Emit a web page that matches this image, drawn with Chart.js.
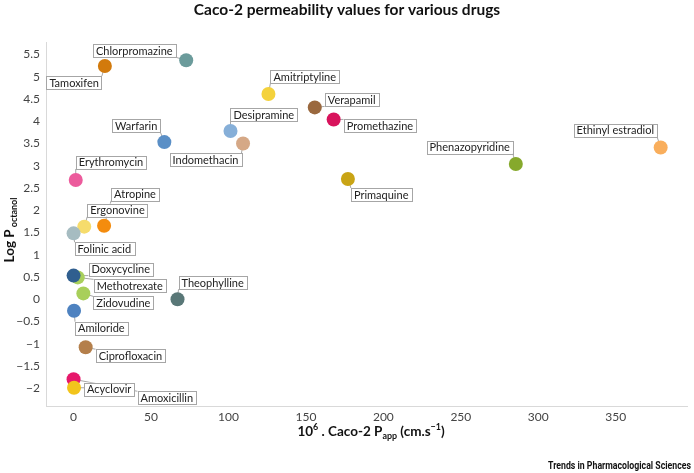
<!DOCTYPE html>
<html>
<head>
<meta charset="utf-8">
<script src="https://cdn.jsdelivr.net/npm/chart.js@4/dist/chart.umd.min.js"></script>
<style>
  html, body { margin: 0; padding: 0; background: #fff; }
  #wrap { width: 694px; height: 473px; position: relative; }
</style>
</head>
<body>
<div id="wrap"><canvas id="caco"></canvas></div>
<script>
// drugs and their values
const drugs = ['Chlorpromazine', 'Tamoxifen', 'Amitriptyline', 'Verapamil', 'Promethazine',
  'Desipramine', 'Warfarin', 'Indomethacin', 'Ethinyl estradiol', 'Phenazopyridine',
  'Erythromycin', 'Primaquine', 'Atropine', 'Ergonovine', 'Folinic acid', 'Methotrexate',
  'Doxycycline', 'Zidovudine', 'Theophylline', 'Amiloride', 'Ciprofloxacin', 'Amoxicillin', 'Acyclovir'];
const caco2Papp = [72.7, 20.2, 125.8, 155.7, 167.9, 101.3, 58.6, 109.4, 379, 285.5,
  1.4, 177.1, 19.7, 6.9, 0, 2.7, 0, 6.3, 67.1, 0.3, 7.8, 0, 0.3];
const logP = [5.37, 5.24, 4.61, 4.31, 4.04, 3.78, 3.53, 3.50, 3.41, 3.04,
  2.68, 2.70, 1.65, 1.63, 1.48, 0.49, 0.53, 0.13, 0.0, -0.26, -1.08, -1.80, -1.99];
const pointColors = ['#6b9b9b', '#d27a0c', '#f4d23c', '#9a683e', '#d8135c', '#86afd8', '#5a8fc6',
  '#d5a886', '#f9ae5c', '#86a92c', '#ec5b9c', '#c9a415', '#f48c0e', '#f6dc6c', '#a6bcc1',
  '#a9d05c', '#305f8f', '#a8cf5a', '#597777', '#4e82c0', '#b47f4b', '#e6186b', '#f2c41c'];
const xTicks = [0, 50, 100, 150, 200, 250, 300, 350];
const yTicks = [-2, -1.5, -1, -0.5, 0, 0.5, 1, 1.5, 2, 2.5, 3, 3.5, 4, 4.5, 5, 5.5];

// where each callout box sits relative to its point: [side, dx, dy]
// 'l' = box left edge at point + dx, 'r' = box right edge at point + dx
const calloutPlace = [
  ['r', -10.6, -16], ['r', -3, 10], ['l', 2, -24], ['l', 10, -14], ['l', 10, 0],
  ['l', 0, -23], ['r', -4, -23], ['r', -1.6, 10], ['r', -3.6, -23.7], ['r', -3, -23.3],
  ['l', 0, -24], ['l', 3, 9], ['l', 7, -38], ['l', 3, -23], ['l', 1, 9],
  ['l', 16, 2], ['l', 15, -13], ['l', 10, 3], ['l', 1, -23], ['l', 1, 11],
  ['l', 10, 2], ['l', 64, 12], ['l', 10, -5]
];

const FONT = 'Lato, "Open Sans", sans-serif';
const minus = s => String(s).replace('-', '\u2212');

function calloutRects(chart) {
  const ctx = chart.ctx;
  const meta = chart.getDatasetMeta(0);
  ctx.save();
  ctx.font = '11px ' + FONT;
  const out = meta.data.map((pt, i) => {
    const w = ctx.measureText(drugs[i]).width + 6;
    const [side, dx, dy] = calloutPlace[i];
    const left = side === 'l' ? pt.x + dx : pt.x + dx - w;
    return { x: left, y: pt.y + dy, w: w, h: 13, px: pt.x, py: pt.y };
  });
  ctx.restore();
  return out;
}

// draws a run of text pieces with sub/superscripts, centred on cx
function drawRich(ctx, parts, cx, cy, size) {
  const fontOf = p => 'bold ' + (p.s ? size * 0.66 : size) + 'px ' + FONT;
  let total = 0;
  parts.forEach(p => { ctx.font = fontOf(p); total += ctx.measureText(p.t).width; });
  let x = cx - total / 2;
  ctx.textAlign = 'left';
  ctx.textBaseline = 'alphabetic';
  parts.forEach(p => {
    ctx.font = fontOf(p);
    const off = p.s === 'sub' ? size * 0.25 : p.s === 'sup' ? -size * 0.42 : 0;
    ctx.fillText(p.t, x, cy + off);
    x += ctx.measureText(p.t).width;
  });
}

const annotate = {
  id: 'annotate',
  beforeDatasetsDraw(chart) {
    const ctx = chart.ctx;
    ctx.save();
    ctx.strokeStyle = '#a6a6a6';
    ctx.lineWidth = 1;
    calloutRects(chart).forEach(r => {
      const nx = Math.min(Math.max(r.px, r.x), r.x + r.w);
      const ny = Math.min(Math.max(r.py, r.y), r.y + r.h);
      ctx.beginPath();
      ctx.moveTo(nx, ny);
      ctx.lineTo(r.px, r.py);
      ctx.stroke();
    });
    ctx.restore();
  },
  afterDatasetsDraw(chart) {
    const ctx = chart.ctx;
    ctx.save();
    ctx.font = '11px ' + FONT;
    ctx.textBaseline = 'middle';
    ctx.textAlign = 'left';
    calloutRects(chart).forEach((r, i) => {
      ctx.fillStyle = '#fff';
      ctx.fillRect(r.x, r.y, r.w, r.h);
      ctx.strokeStyle = '#a6a6a6';
      ctx.lineWidth = 1;
      ctx.strokeRect(Math.round(r.x) + 0.5, Math.round(r.y) + 0.5, Math.round(r.w), r.h);
      ctx.fillStyle = '#222';
      ctx.fillText(drugs[i], r.x + 3, r.y + r.h / 2 + 0.5);
    });
    ctx.restore();
  },
  afterDraw(chart) {
    const ctx = chart.ctx;
    ctx.save();
    ctx.fillStyle = '#111';
    // title
    ctx.font = 'bold 15.5px ' + FONT;
    ctx.textAlign = 'center';
    ctx.textBaseline = 'alphabetic';
    ctx.fillText('Caco-2 permeability values for various drugs', 347, 15);

    // x axis title
    drawRich(ctx, [
      { t: '10' }, { t: '6', s: 'sup' }, { t: ' . Caco-2 P' }, { t: 'app', s: 'sub' },
      { t: ' (cm.s' }, { t: '\u22121', s: 'sup' }, { t: ')' }
    ], 371, 436, 13.5);

    // y axis title
    ctx.save();
    ctx.translate(14, 230);
    ctx.rotate(-Math.PI / 2);
    drawRich(ctx, [{ t: 'Log P' }, { t: ' octanol', s: 'sub' }], 0, 0, 13.5);
    ctx.restore();

    // source line
    ctx.font = 'bold 11px Roboto, sans-serif';
    const txt = 'Trends in Pharmacological Sciences';
    const w = ctx.measureText(txt).width;
    ctx.save();
    ctx.translate(548, 469);
    ctx.scale(143 / w, 1);
    ctx.textAlign = 'left';
    ctx.fillText(txt, 0, 0);
    ctx.restore();
    ctx.restore();
  }
};

new Chart(document.getElementById('caco'), {
  type: 'scatter',
  data: {
    datasets: [{
      data: caco2Papp.map((x, i) => ({ x: x, y: logP[i] })),
      pointBackgroundColor: pointColors,
      pointBorderWidth: 0,
      pointRadius: 7,
      pointHoverRadius: 7
    }]
  },
  options: {
    responsive: true,
    maintainAspectRatio: false,
    animation: false,
    layout: { padding: { left: 0, right: 2, top: 42, bottom: 47 } },
    plugins: { legend: { display: false }, tooltip: { enabled: false } },
    scales: {
      x: {
        type: 'linear',
        min: -17.8,
        max: 396,
        afterBuildTicks: s => { s.ticks = xTicks.map(v => ({ value: v })); },
        afterFit: s => { s.height = 20; },
        grid: { drawOnChartArea: false, drawTicks: false },
        border: { display: true, color: '#d9d9d9' },
        ticks: { padding: 4, color: '#444', font: { family: FONT, size: 12 }, callback: v => minus(v) }
      },
      y: {
        type: 'linear',
        min: -2.4,
        max: 5.78,
        afterBuildTicks: s => { s.ticks = yTicks.map(v => ({ value: v })); },
        afterFit: s => { s.width = 46; },
        grid: { drawOnChartArea: false, drawTicks: false },
        border: { display: true, color: '#d9d9d9' },
        ticks: { padding: 6, color: '#444', font: { family: FONT, size: 12 }, callback: v => minus(v) }
      }
    }
  },
  plugins: [annotate]
});
</script>
</body>
</html>
